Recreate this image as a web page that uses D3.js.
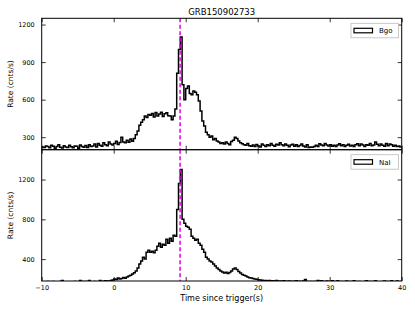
<!DOCTYPE html>
<html><head><meta charset="utf-8">
<script src="https://cdn.jsdelivr.net/npm/d3@7"></script>
<style>
body{margin:0;background:#fff;}
text{font-family:"DejaVu Sans",sans-serif;}
</style></head>
<body><svg id="c" width="415" height="312"></svg>
<script>
const title = "GRB150902733";
const binStart = -10, binWidth = 0.25;
const triggerLine = 9.22;
const xTicks = [-10, 0, 10, 20, 30, 40];
const bgoTicks = [300, 600, 900, 1200];
const naiTicks = [400, 800, 1200];
const bgoDomain = [200, 1250];
const naiDomain = [180, 1500];

const bgoRates = [
 222,218,230,225,215,235,228,212,
 226,240,220,214,232,222,218,236,
 224,216,230,227,212,238,225,220,
 233,218,240,226,
 230,245,222,250,235,228,255,240,232,262,245,238,
 250,268,242,258,
 300,262,255,275,
 260,285,268,290,
 320,350,395,420,
 440,470,458,482,
 475,490,462,498,
 470,485,500,465,
 488,495,472,470,
 440,470,525,810,
 1000,1100,720,600,
 690,710,650,640,
 670,660,640,590,
 510,430,390,340,
 320,300,310,280,
 290,270,262,250,
 255,245,262,250,
 240,265,275,300,
 290,270,255,248,
 240,235,250,232,
 228,238,225,242,
 230,222,245,235,
 226,240,232,250,
 236,228,244,238,
 255,240,232,246,
 236,224,238,244,
 228,240,226,233,
 245,230,222,240,
 218,222,220,226,
 235,226,248,238,
 232,250,238,230,
 240,228,236,226,
 238,248,232,240,
 226,236,244,230,
 235,226,240,248,
 232,245,238,226,
 240,236,250,232,
 238,262,244,232,
 246,236,228,250,
 232,245,240,228,
 236,226,230,222
];

const naiRates = [
 168,172,160,175,165,170,174,162,
 170,165,174,186,168,172,165,160,
 172,166,175,162,170,186,168,174,
 165,176,185,170,166,174,168,172,
 186,175,178,182,
 180,178,185,190,
 200,195,210,200,
 205,215,208,220,
 230,238,250,262,
 280,310,350,380,
 420,400,470,490,
 470,480,465,490,
 530,560,520,550,
 540,600,560,610,
 580,640,630,900,
 1160,1300,800,760,
 730,720,700,630,
 610,590,600,560,
 540,500,470,420,
 400,380,370,350,
 330,310,295,280,
 270,260,268,255,
 265,280,300,310,
 295,275,260,245,
 238,230,220,212,
 210,205,200,198,
 192,190,188,185,186,183,185,180,182,178,
 184,176,180,175,182,178,176,180,174,178,
 176,182,174,178,
 172,180,196,176,
 170,174,168,176,
 172,184,178,182,
 176,170,181,174,
 168,182,175,170,
 183,172,176,169,
 174,181,170,176,
 168,182,174,170,
 176,168,172,175,
 183,170,176,168,
 174,182,170,172,
 168,176,181,170,
 174,168,182,172,
 170,181,168,174
];

const svg = d3.select("#c");
const L = 41.7, R = 401.7;
const x = d3.scaleLinear().domain([-10, 40]).range([L, R]);

const panels = [
  {name:"Bgo", data:bgoRates, domain:bgoDomain, ticks:bgoTicks, top:18.3, bottom:149.7, showX:false},
  {name:"NaI", data:naiRates, domain:naiDomain, ticks:naiTicks, top:149.7, bottom:281, showX:true}
];

panels.forEach((p, k) => {
  const y = d3.scaleLinear().domain(p.domain).range([p.bottom, p.top]);
  const g = svg.append("g");
  const cid = "clip" + k;
  svg.append("clipPath").attr("id", cid).append("rect")
    .attr("x", L).attr("y", p.top).attr("width", R - L).attr("height", p.bottom - p.top);

  const pts = p.data.map((v, i) => [binStart + i * binWidth, v]);
  pts.push([binStart + p.data.length * binWidth, p.data[p.data.length - 1]]);
  const line = d3.line().x(d => x(d[0])).y(d => y(d[1])).curve(d3.curveStepAfter);
  g.append("path").attr("d", line(pts)).attr("clip-path", `url(#${cid})`)
    .attr("fill", "none").attr("stroke", "#000").attr("stroke-width", 1.5);

  g.append("line").attr("x1", x(triggerLine)).attr("x2", x(triggerLine))
    .attr("y1", p.top).attr("y2", p.bottom)
    .attr("stroke", "#e000e0").attr("stroke-width", 1.5).attr("stroke-dasharray", "4,2.5");

  const fmt = d => d < 0 ? "\u2212" + Math.abs(d) : String(d);
  const ax = (axis, tx, ty) => {
    const a = g.append("g").attr("transform", `translate(${tx},${ty})`).call(axis);
    a.attr("color", "#000");
    a.select(".domain").remove();
    a.selectAll(".tick line").attr("stroke", "#000").attr("stroke-width", 0.8);
    a.selectAll("text").attr("font-size", 6.5).attr("fill", "#000").attr("font-family", "DejaVu Sans, sans-serif");
    return a;
  };
  ax(d3.axisLeft(y).tickValues(p.ticks).tickSize(-4).tickPadding(7).tickFormat(fmt), L, 0);
  ax(d3.axisRight(y).tickValues(p.ticks).tickSize(-4).tickFormat(""), R, 0);
  ax(d3.axisTop(x).tickValues(xTicks).tickSize(-4).tickFormat(""), 0, p.top);
  ax(d3.axisBottom(x).tickValues(xTicks).tickSize(-4).tickPadding(4)
      .tickFormat(p.showX ? fmt : ""), 0, p.bottom);

  g.append("rect").attr("x", L).attr("y", p.top).attr("width", R - L).attr("height", p.bottom - p.top)
    .attr("fill", "none").attr("stroke", "#000").attr("stroke-width", 1);

  g.append("text").attr("transform", `translate(13,${(p.top + p.bottom) / 2}) rotate(-90)`)
    .attr("text-anchor", "middle").attr("font-size", 7.5).text("Rate (cnts/s)");

  const lx = 351, ly = p.top + 5;
  g.append("rect").attr("x", lx).attr("y", ly).attr("width", 47.5).attr("height", 14.5)
    .attr("fill", "#fff").attr("stroke", "#bbb").attr("stroke-width", 0.8);
  g.append("rect").attr("x", lx + 3).attr("y", ly + 5).attr("width", 18.5).attr("height", 4.5)
    .attr("fill", "#fff").attr("stroke", "#000").attr("stroke-width", 1.2);
  g.append("text").attr("x", lx + 28).attr("y", ly + 10).attr("font-size", 7).text(p.name);
});

svg.append("text").attr("x", (L + R) / 2).attr("y", 15).attr("text-anchor", "middle")
  .attr("font-size", 8.5).text(title);
svg.append("text").attr("x", (L + R) / 2).attr("y", 300.5).attr("text-anchor", "middle")
  .attr("font-size", 8).text("Time since trigger(s)");
</script></body></html>
